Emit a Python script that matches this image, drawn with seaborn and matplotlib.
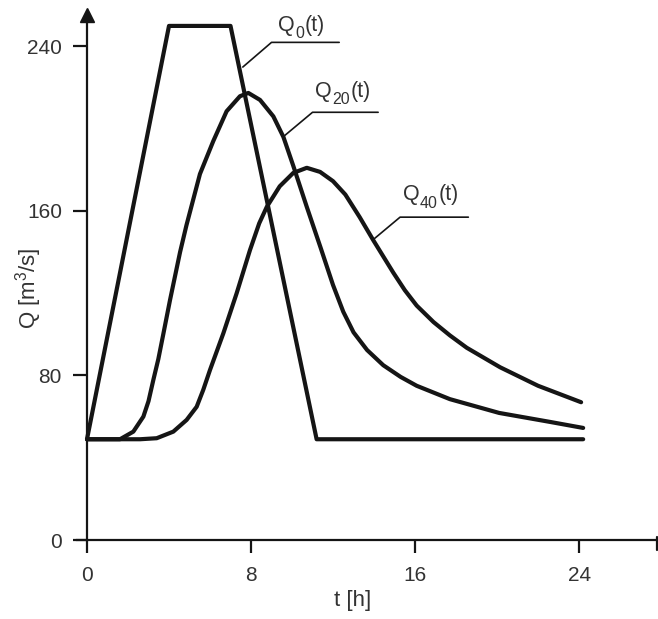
import matplotlib
matplotlib.use('Agg')
import matplotlib.pyplot as plt
import seaborn as sns
import pandas as pd

# Data
t_q0 = [0, 4, 7, 11.2, 24.2]
q0 = [49, 250, 250, 49, 49]

t_q20 = [0, 1.0, 1.61, 2.26, 2.75, 3.0, 3.24, 3.48, 3.72, 4.05, 4.54, 4.85,
         5.51, 6.16, 6.81, 7.46, 7.87, 8.44, 9.09, 9.58, 10.06, 10.72, 11.4,
         12.0, 12.5, 13.0, 13.66, 14.45, 15.3, 16.08, 17.7, 20.1, 22.6, 24.2]
q20 = [49, 49, 49, 52.7, 60, 67.5, 78, 88, 100, 116.7, 140, 153,
       178, 194, 208.5, 215.8, 217.4, 214, 206, 196, 182, 162, 142,
       124, 111, 101, 92.4, 85, 79.3, 75, 68.5, 61.8, 57.4, 54.5]

t_q40 = [0, 2.59, 3.4, 4.21, 4.86, 5.35, 5.67, 6.0, 6.65, 7.3, 7.95, 8.4,
         8.77, 9.4, 10.06, 10.72, 11.37, 12.0, 12.6, 13.3, 13.95, 14.94,
         15.5, 16.08, 16.9, 17.7, 18.52, 20.15, 22.0, 24.1]
q40 = [49, 49, 49.5, 52.7, 58.4, 64.8, 73, 82.7, 100.5, 120, 141, 154,
       162, 172, 178.5, 181, 179, 174.5, 168, 157, 146, 130,
       121.5, 114, 106, 99.5, 93.5, 84, 75, 67]

x_ticks = [0, 8, 16, 24]
y_ticks = [0, 80, 160, 240]

sns.set_style('white')
plt.rcParams['font.family'] = ['Liberation Sans', 'DejaVu Sans']
plt.rcParams['mathtext.default'] = 'regular'

ink = '#151515'
txt = '#333333'

fig = plt.figure(figsize=(6.58, 6.19), dpi=100)
ax = fig.add_axes([0.1135, 0.111, 0.8865, 0.887])

df0 = pd.DataFrame({'t': t_q0, 'Q': q0})
df20 = pd.DataFrame({'t': t_q20, 'Q': q20})
df40 = pd.DataFrame({'t': t_q40, 'Q': q40})
for d in [df0, df20, df40]:
    sns.lineplot(data=d, x='t', y='Q', ax=ax, color=ink, lw=3.0,
                 sort=False, estimator=None, solid_joinstyle='round')

ax.set_xlim(-0.6, 27.85)
ax.set_ylim(-5, 262)

# axes through the origin
for s in ['top', 'right']:
    ax.spines[s].set_visible(False)
ax.spines['left'].set_position(('data', 0))
ax.spines['bottom'].set_position(('data', 0))
ax.spines['left'].set_bounds(0, 254)
ax.spines['bottom'].set_bounds(-0.5, 27.8)
for s in ['left', 'bottom']:
    ax.spines[s].set_color(ink)
    ax.spines[s].set_linewidth(1.6)
ax.plot([0], [255.4], marker='^', ms=10, color=ink, clip_on=False)
ax.plot([27.8, 27.8], [-4.9, 1.5], color=ink, lw=1.6, clip_on=False)

ax.set_xticks(x_ticks)
ax.set_yticks(y_ticks)
ax.tick_params(axis='x', direction='out', length=9.5, width=1.6, pad=9,
               labelsize=15, colors=ink, labelcolor=txt, bottom=True)
ax.tick_params(axis='y', direction='out', length=10, width=1.6, pad=8,
               labelsize=15, colors=ink, labelcolor=txt, left=True)

ax.set_xlabel('t [h]', fontsize=16, color=txt)
ax.set_ylabel('Q [m$^3$/s]', fontsize=16, color=txt)
ax.xaxis.set_label_coords(0.476, -0.072)
ax.yaxis.set_label_coords(-0.0526, 0.478)


def curve_label(x, y, sub):
    # Q, a subscript, then (t), chained one after the other
    q = ax.text(x, y, 'Q', fontsize=15.5, color=txt, ha='left', va='baseline')
    s = ax.annotate(sub, xy=(1, y), xycoords=(q, 'data'), xytext=(0.3, -5.5),
                    textcoords='offset points', fontsize=11.5, color=txt,
                    ha='left', va='baseline')
    ax.annotate('(t)', xy=(1, y), xycoords=(s, 'data'), xytext=(0.5, 0),
                textcoords='offset points', fontsize=15.5, color=txt,
                ha='left', va='baseline')


# leader lines and labels
leaders = [([7.6, 9.0, 12.3], [230, 242, 242]),
           ([9.56, 11.0, 14.2], [196, 208, 208]),
           ([13.95, 15.27, 18.6], [146, 157, 157])]
label_pos = [(9.32, 247.6, '0'), (11.12, 215.6, '20'), (15.41, 165.4, '40')]
for (lx, ly), (px, py, sub) in zip(leaders, label_pos):
    ax.plot(lx, ly, color=ink, lw=1.2)
    curve_label(px, py, sub)

fig.savefig('out.png', dpi=100)
